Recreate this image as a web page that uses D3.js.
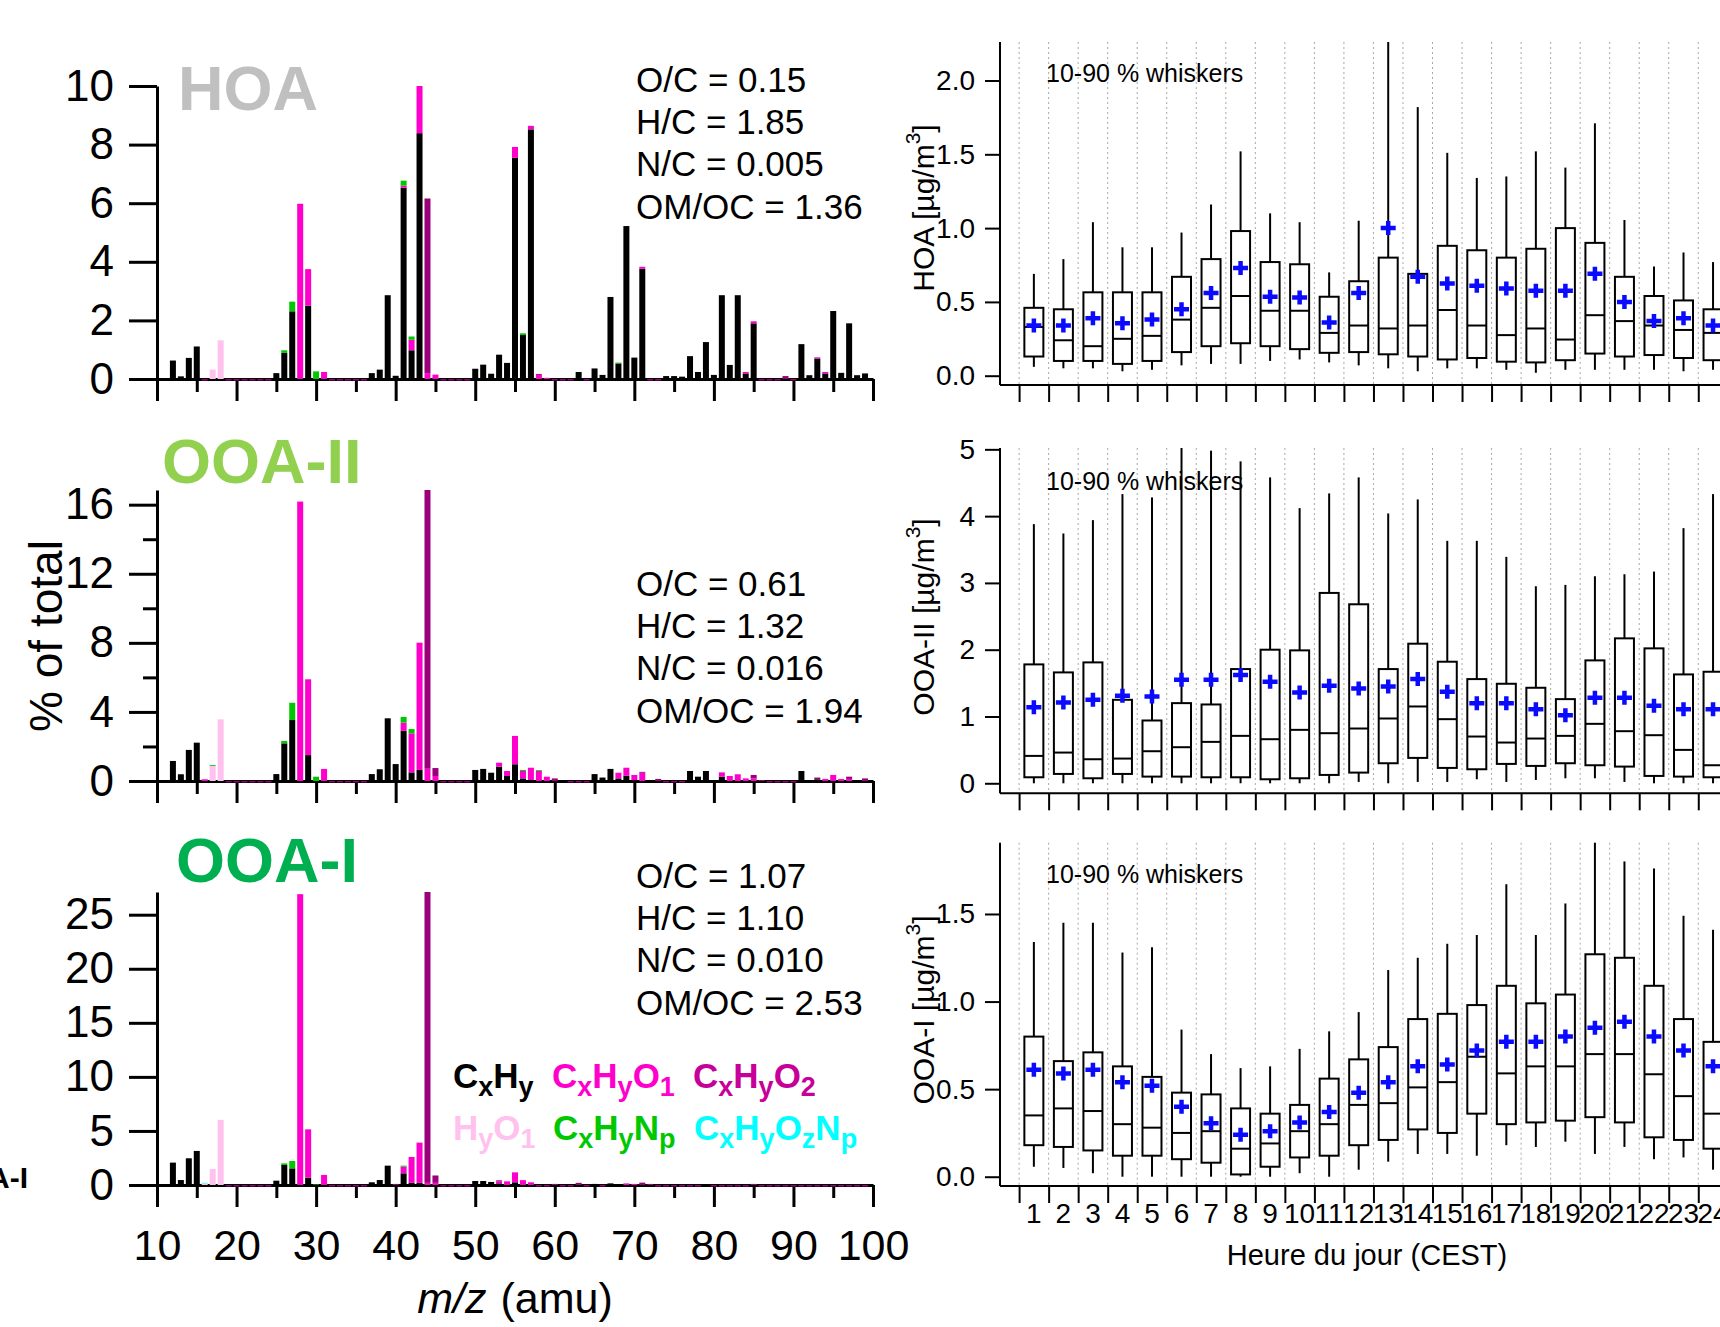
<!DOCTYPE html>
<html>
<head>
<meta charset="utf-8">
<script src="https://cdn.jsdelivr.net/npm/d3@7"></script>
<style>
  body { margin: 0; background: #fff; }
  svg { display: block; }
  text { font-family: "Liberation Sans", Arial, Helvetica, sans-serif; }
</style>
</head>
<body>
<svg id="chart" width="1720" height="1327"></svg>
<script>
// ---- mass spectra, [m/z, % of total] per ion family ----
const FAMILIES = ['CxHy', 'CxHyO1', 'CxHyO2', 'HyO1', 'CxHyNp', 'CxHyOzNp'];
const BAR_COLORS = ['#000000', '#ff00cc', '#99007a', '#ffc2ee', '#00c800', '#00ffff'];
const LEGEND_COLORS = ['#000000', '#ff00cc', '#c8009a', '#ffc2ee', '#00c800', '#00ffff'];

const hoaCH = [[12,0.63],[13,0.09],[14,0.72],[15,1.11],[25,0.2],[26,0.89],[27,2.31],[29,2.5],[37,0.2],[38,0.32],[39,2.86],[40,0.11],[41,6.53],[42,0.98],[43,8.39],[50,0.35],[51,0.49],[52,0.18],[53,0.83],[54,0.55],[55,7.55],[56,1.5],[57,8.52],[63,0.24],[65,0.36],[66,0.14],[67,2.8],[68,0.53],[69,5.22],[70,0.73],[71,3.76],[74,0.1],[75,0.1],[76,0.08],[77,0.78],[78,0.24],[79,1.26],[80,0.14],[81,2.86],[82,0.48],[83,2.86],[84,0.19],[85,1.9],[91,1.19],[92,0.13],[93,0.7],[94,0.19],[95,2.32],[96,0.21],[97,1.9],[98,0.13],[99,0.19]];
const hoaCHO1 = [[28,5.98],[29,1.25],[31,0.24],[41,0.07],[42,0.36],[43,1.61],[44,0.2],[45,0.15],[55,0.37],[57,0.12],[58,0.14],[59,0.04],[71,0.07],[84,0.05],[85,0.07],[93,0.04],[94,0.05]];
const hoaCHO2 = [[44,5.96],[58,0.03],[89,0.1],[16,-0.05],[19,-0.05],[20,-0.05],[21,-0.05],[22,-0.05],[23,-0.05],[24,-0.05],[32,-0.05],[33,-0.05],[34,-0.05],[35,-0.05],[36,-0.05],[46,-0.05],[47,-0.05],[48,-0.05],[49,-0.05],[60,-0.05],[61,-0.05],[62,-0.05],[64,-0.05],[72,-0.05],[73,-0.05],[86,-0.05],[87,-0.05],[88,-0.05],[90,-0.05]];
const hoaHO = [[17,0.32],[18,1.32]];
const hoaCHN = [[26,0.09],[27,0.33],[30,0.26],[41,0.17],[42,0.11],[56,0.06],[68,0.03]];
const hoaCHON = [];

const ooa2CH = [[12,1.16],[13,0.39],[14,1.8],[15,2.22],[25,0.4],[26,2.18],[27,3.53],[29,1.5],[37,0.4],[38,0.68],[39,3.63],[40,0.98],[41,2.9],[42,0.5],[43,0.64],[50,0.64],[51,0.7],[52,0.48],[53,0.83],[54,0.29],[55,0.97],[56,0.15],[57,0.06],[65,0.4],[66,0.2],[67,0.7],[68,0.15],[69,0.31],[70,0.05],[77,0.58],[78,0.25],[79,0.58],[81,0.25],[91,0.58],[93,0.1]];
const ooa2CHO1 = [[16,0.1],[28,16.18],[29,4.39],[31,0.7],[41,0.48],[42,2.26],[43,7.37],[44,0.71],[45,0.29],[53,0.23],[54,0.29],[55,1.64],[56,0.43],[57,0.71],[58,0.58],[59,0.25],[68,0.33],[69,0.46],[70,0.3],[71,0.48],[81,0.25],[82,0.29],[83,0.39],[84,0.15],[85,0.15],[94,0.12],[95,0.35],[96,0.12],[97,0.12]];
const ooa2CHO2 = [[44,16.19],[45,0.46],[60,0.15],[71,0.05],[73,0.12],[85,0.2],[86,0.06],[93,0.1],[97,0.13],[99,0.15],[19,-0.08],[20,-0.08],[21,-0.08],[22,-0.08],[23,-0.08],[24,-0.08],[32,-0.08],[33,-0.08],[34,-0.08],[35,-0.08],[36,-0.08],[46,-0.08],[47,-0.08],[48,-0.08],[49,-0.08],[62,-0.08],[63,-0.08],[64,-0.08],[74,-0.08],[75,-0.08],[76,-0.08],[87,-0.08],[88,-0.08],[89,-0.08],[90,-0.08]];
const ooa2HO = [[17,0.87],[18,3.57]];
const ooa2CHN = [[17,0.05],[26,0.14],[27,1.0],[30,0.25],[41,0.33],[42,0.25],[56,0.06],[58,0.05]];
const ooa2CHON = [];

const ooa1CH = [[12,2.07],[13,0.46],[14,2.47],[15,3.15],[25,0.4],[26,1.85],[27,1.54],[29,0.68],[37,0.25],[38,0.46],[39,1.79],[41,1.08],[42,0.2],[43,0.2],[50,0.37],[51,0.37],[52,0.28],[53,0.15],[55,0.25],[65,0.1],[67,0.15]];
const ooa1CHO1 = [[28,26.9],[29,4.47],[31,0.93],[41,0.62],[42,2.39],[43,3.72],[44,0.2],[45,0.2],[53,0.2],[54,0.34],[55,0.92],[56,0.45],[57,0.25],[69,0.15],[70,0.1]];
const ooa1CHO2 = [[44,27.0],[45,0.68],[40,0.1],[53,0.08],[60,0.1],[63,0.2],[71,0.22],[72,0.1],[85,0.1],[19,-0.14],[20,-0.14],[21,-0.14],[22,-0.14],[23,-0.14],[24,-0.14],[32,-0.14],[33,-0.14],[34,-0.14],[35,-0.14],[36,-0.14],[46,-0.14],[47,-0.14],[48,-0.14],[49,-0.14],[58,-0.14],[59,-0.14],[61,-0.14],[62,-0.14],[64,-0.14],[66,-0.14],[73,-0.14],[74,-0.14],[75,-0.14],[76,-0.14],[77,-0.14],[78,-0.14],[80,-0.14],[81,-0.14],[82,-0.14],[83,-0.14],[84,-0.14],[86,-0.14],[87,-0.14],[88,-0.14],[89,-0.14],[90,-0.14],[91,-0.14],[92,-0.14],[93,-0.14],[94,-0.14],[95,-0.14],[96,-0.14],[97,-0.14],[98,-0.14],[99,-0.14]];
const ooa1HO = [[16,0.15],[17,1.48],[18,6.02]];
const ooa1CHN = [[26,0.15],[27,0.68],[30,0.05],[41,0.09]];
const ooa1CHON = [[16,0.05]];

const MZ_MAJOR = [10,20,30,40,50,60,70,80,90,100];
const MZ_MINOR = [15,25,35,45,55,65,75,85,95];

// ---- diurnal box plots, hours 1..24 (µg/m3) ----
const HOURS = d3.range(1, 25);
const hoaP10  = [0.06,0.05,0.05,0.03,0.04,0.07,0.08,0.08,0.10,0.11,0.09,0.07,0.05,0.03,0.05,0.05,0.04,0.02,0.04,0.04,0.04,0.04,0.03,0.04];
const hoaQ25  = [0.13,0.10,0.10,0.08,0.10,0.16,0.20,0.22,0.20,0.18,0.155,0.16,0.145,0.13,0.11,0.12,0.095,0.09,0.105,0.15,0.13,0.14,0.12,0.105];
const hoaMed  = [0.33,0.24,0.20,0.25,0.27,0.38,0.46,0.54,0.44,0.44,0.29,0.34,0.32,0.34,0.445,0.34,0.275,0.32,0.245,0.41,0.37,0.34,0.31,0.29];
const hoaQ75  = [0.46,0.45,0.565,0.565,0.565,0.67,0.79,0.98,0.77,0.755,0.535,0.64,0.80,0.69,0.88,0.85,0.80,0.86,1.0,0.90,0.67,0.54,0.51,0.45];
const hoaP90  = [0.69,0.79,1.04,0.87,0.87,0.97,1.16,1.52,1.10,1.04,0.70,1.05,2.3,1.82,1.51,1.34,1.35,1.52,1.41,1.71,1.055,0.74,0.835,0.77];
const hoaMean = [0.34,0.34,0.39,0.355,0.38,0.45,0.56,0.73,0.535,0.53,0.36,0.56,1.0,0.67,0.625,0.61,0.59,0.575,0.575,0.69,0.50,0.37,0.39,0.34];

const ooa2P10  = [0.0,0.0,0.0,0.0,0.0,0.0,0.0,0.0,0.0,0.0,0.0,0.02,0.0,0.02,0.02,0.06,0.02,0.05,0.075,0.075,0.02,0.0,0.0,0.0];
const ooa2Q25  = [0.09,0.14,0.075,0.14,0.10,0.10,0.09,0.09,0.06,0.075,0.125,0.16,0.30,0.38,0.23,0.21,0.29,0.26,0.30,0.27,0.25,0.11,0.10,0.09];
const ooa2Med  = [0.41,0.46,0.36,0.37,0.48,0.54,0.62,0.71,0.66,0.80,0.75,0.82,0.97,1.15,0.96,0.70,0.61,0.67,0.71,0.89,0.78,0.72,0.50,0.27];
const ooa2Q75  = [1.78,1.66,1.81,1.25,0.94,1.20,1.18,1.71,2.0,1.99,2.85,2.68,1.71,2.09,1.82,1.56,1.49,1.43,1.26,1.84,2.17,2.02,1.63,1.67];
const ooa2P90  = [3.88,3.74,3.94,4.33,4.28,5.05,4.98,4.82,4.58,4.12,4.34,4.58,4.04,4.25,3.63,3.63,3.39,2.95,2.97,3.10,3.13,3.17,3.82,4.33];
const ooa2Mean = [1.14,1.21,1.25,1.31,1.30,1.55,1.55,1.62,1.52,1.36,1.46,1.42,1.45,1.56,1.37,1.20,1.20,1.11,1.02,1.28,1.28,1.16,1.11,1.11];

const ooa1P10  = [0.057,0.05,0.02,0.0,0.0,0.0,0.0,0.0,0.0,0.02,0.0,0.04,0.086,0.13,0.13,0.12,0.18,0.17,0.20,0.13,0.17,0.10,0.11,0.04];
const ooa1Q25  = [0.18,0.17,0.15,0.12,0.12,0.10,0.08,0.013,0.057,0.11,0.12,0.18,0.21,0.27,0.25,0.36,0.30,0.31,0.32,0.34,0.31,0.225,0.21,0.16];
const ooa1Med  = [0.35,0.39,0.375,0.30,0.28,0.25,0.26,0.16,0.19,0.26,0.30,0.41,0.42,0.51,0.54,0.685,0.59,0.63,0.63,0.70,0.70,0.585,0.46,0.36];
const ooa1Q75  = [0.80,0.66,0.71,0.63,0.57,0.48,0.47,0.39,0.36,0.41,0.56,0.67,0.74,0.90,0.93,0.98,1.09,0.99,1.04,1.27,1.25,1.09,0.90,0.77];
const ooa1P90  = [1.34,1.45,1.45,1.28,1.31,0.84,0.70,0.62,0.63,0.73,0.83,0.94,1.18,1.25,1.33,1.38,1.67,1.38,1.56,1.95,1.80,1.76,1.49,1.41];
const ooa1Mean = [0.61,0.59,0.61,0.54,0.52,0.40,0.305,0.24,0.26,0.31,0.37,0.48,0.54,0.63,0.64,0.72,0.77,0.77,0.80,0.85,0.885,0.80,0.72,0.63];

const svg = d3.select('#chart');
const mzX = d3.scaleLinear().domain([10, 100]).range([157, 873]);
const hourX = d3.scaleLinear().domain([0.5, 24.5]).range([1019.1, 1727.8]);

function styleAxis(g, w, fs) {
  g.selectAll('path.domain').attr('stroke', '#000').attr('stroke-width', w);
  g.selectAll('.tick line').attr('stroke', '#000').attr('stroke-width', w);
  g.selectAll('.tick text').attr('fill', '#000').attr('font-size', fs)
    .attr('font-family', '"Liberation Sans", Arial, sans-serif');
}

function spectrumPanel(cfg) {
  const y = d3.scaleLinear().domain([0, cfg.yMax]).range([cfg.y0, cfg.yTop]);
  const g = svg.append('g');

  // y axis: labelled ticks, then minor ones
  const ya = g.append('g').attr('transform', 'translate(157,0)')
    .call(d3.axisLeft(y).tickValues(cfg.yTicks).tickSize(28).tickPadding(15).tickSizeOuter(0).tickFormat(d3.format('d')));
  styleAxis(ya, 3, 44);
  if (cfg.yMinor) {
    const ym = g.append('g').attr('transform', 'translate(157,0)')
      .call(d3.axisLeft(y).tickValues(cfg.yMinor).tickSize(14).tickSizeOuter(0).tickFormat(''));
    styleAxis(ym, 3, 44);
    ym.select('path.domain').remove();
  }

  // x axis at zero
  const xa = g.append('g').attr('transform', `translate(0,${cfg.y0})`)
    .call(d3.axisBottom(mzX).tickValues(MZ_MAJOR).tickSize(22).tickPadding(22.5).tickSizeOuter(0)
      .tickFormat(cfg.xLabels ? d3.format('d') : ''));
  styleAxis(xa, 3, 43);
  const xm = g.append('g').attr('transform', `translate(0,${cfg.y0})`)
    .call(d3.axisBottom(mzX).tickValues(MZ_MINOR).tickSize(13).tickSizeOuter(0).tickFormat(''));
  styleAxis(xm, 3, 43);
  xm.select('path.domain').remove();

  // stacked bars
  const rows = d3.range(10, 101).map(mz => {
    const r = { mz };
    FAMILIES.forEach(f => { r[f] = 0; });
    return r;
  });
  cfg.series.forEach((list, i) => list.forEach(([mz, v]) => { rows[mz - 10][FAMILIES[i]] += v; }));
  const stacked = d3.stack().keys(FAMILIES).offset(d3.stackOffsetDiverging)(rows);

  g.append('g').selectAll('g').data(stacked).join('g')
    .attr('fill', (d, i) => BAR_COLORS[i])
    .selectAll('rect').data(d => d.filter(s => s[1] !== s[0])).join('rect')
    .attr('x', s => mzX(s.data.mz) - 3)
    .attr('width', 6)
    .attr('y', s => Math.max(cfg.yTop, y(Math.max(s[0], s[1]))))
    .attr('height', s => Math.max(0, y(Math.min(s[0], s[1])) - Math.max(cfg.yTop, y(Math.max(s[0], s[1])))));

  // title
  g.append('text').attr('x', cfg.titleX).attr('y', cfg.titleY)
    .attr('font-size', 63).attr('font-weight', 'bold').attr('fill', cfg.titleColor).text(cfg.title);

  // elemental ratios
  g.append('g').selectAll('text').data(cfg.ratios).join('text')
    .attr('x', 636).attr('y', (d, i) => cfg.ratioY + i * 42.2)
    .attr('font-size', 35).attr('fill', '#000').text(d => d);
}

spectrumPanel({
  y0: 379, yTop: 86, yMax: 10, yTicks: [0, 2, 4, 6, 8, 10], yMinor: null, xLabels: false,
  series: [hoaCH, hoaCHO1, hoaCHO2, hoaHO, hoaCHN, hoaCHON],
  title: 'HOA', titleX: 178, titleY: 110, titleColor: '#c0c0c0',
  ratios: ['O/C = 0.15', 'H/C = 1.85', 'N/C = 0.005', 'OM/OC = 1.36'], ratioY: 92
});
spectrumPanel({
  y0: 781, yTop: 490, yMax: 16.85, yTicks: [0, 4, 8, 12, 16], yMinor: [2, 6, 10, 14], xLabels: false,
  series: [ooa2CH, ooa2CHO1, ooa2CHO2, ooa2HO, ooa2CHN, ooa2CHON],
  title: 'OOA-II', titleX: 162, titleY: 483, titleColor: '#92d050',
  ratios: ['O/C = 0.61', 'H/C = 1.32', 'N/C = 0.016', 'OM/OC = 1.94'], ratioY: 596
});
spectrumPanel({
  y0: 1185, yTop: 892, yMax: 27.1, yTicks: [0, 5, 10, 15, 20, 25], yMinor: null, xLabels: true,
  series: [ooa1CH, ooa1CHO1, ooa1CHO2, ooa1HO, ooa1CHN, ooa1CHON],
  title: 'OOA-I', titleX: 176, titleY: 882, titleColor: '#00b050',
  ratios: ['O/C = 1.07', 'H/C = 1.10', 'N/C = 0.010', 'OM/OC = 2.53'], ratioY: 888
});

// left axis titles
svg.append('text').attr('transform', 'translate(62,636) rotate(-90)')
  .attr('text-anchor', 'middle').attr('font-size', 46).text('% of total');
const mzLabel = svg.append('text').attr('x', 515).attr('y', 1313).attr('text-anchor', 'middle').attr('font-size', 43);
mzLabel.append('tspan').attr('font-style', 'italic').text('m/z');
mzLabel.append('tspan').attr('dx', 14).text('(amu)');
// partly hidden panel name at the left edge, as in the source figure
svg.append('text').attr('x', 28).attr('y', 1188).attr('text-anchor', 'end')
  .attr('font-size', 30).attr('font-weight', 'bold').text('OOA-I');

// legend: part = [text, isSub]
const LEGEND = [
  { f: 0, x: 453, y: 1088, parts: [['C', 0], ['x', 1], ['H', 0], ['y', 1]] },
  { f: 1, x: 552, y: 1088, parts: [['C', 0], ['x', 1], ['H', 0], ['y', 1], ['O', 0], ['1', 1]] },
  { f: 2, x: 693, y: 1088, parts: [['C', 0], ['x', 1], ['H', 0], ['y', 1], ['O', 0], ['2', 1]] },
  { f: 3, x: 453, y: 1140, parts: [['H', 0], ['y', 1], ['O', 0], ['1', 1]] },
  { f: 4, x: 553, y: 1140, parts: [['C', 0], ['x', 1], ['H', 0], ['y', 1], ['N', 0], ['p', 1]] },
  { f: 5, x: 694, y: 1140, parts: [['C', 0], ['x', 1], ['H', 0], ['y', 1], ['O', 0], ['z', 1], ['N', 0], ['p', 1]] }
];
LEGEND.forEach(item => {
  const t = svg.append('text').attr('x', item.x).attr('y', item.y)
    .attr('font-size', 35).attr('font-weight', 'bold').attr('fill', LEGEND_COLORS[item.f]);
  let prevSub = false;
  item.parts.forEach(([s, sub]) => {
    const ts = t.append('tspan').text(s);
    if (sub) ts.attr('font-size', 27);
    if (sub && !prevSub) ts.attr('dy', 8);
    if (!sub && prevSub) ts.attr('dy', -8);
    prevSub = !!sub;
  });
});

// ---- diurnal panels ----
function diurnalPanel(cfg) {
  const y = d3.scaleLinear().domain([cfg.yMin, cfg.yMax]).range([cfg.yBottom, cfg.yTop]);
  const top = v => Math.max(cfg.yTop, y(v));
  const g = svg.append('g');

  // dotted hour separators
  g.append('g').selectAll('line').data(d3.range(0.5, 25, 1)).join('line')
    .attr('x1', d => hourX(d)).attr('x2', d => hourX(d))
    .attr('y1', cfg.yTop).attr('y2', cfg.yBottom)
    .attr('stroke', '#a8a8a8').attr('stroke-width', 1).attr('stroke-dasharray', '2,3');

  const ya = g.append('g').attr('transform', 'translate(1000,0)')
    .call(d3.axisLeft(y).tickValues(cfg.yTicks).tickSize(15).tickPadding(10).tickSizeOuter(0).tickFormat(d3.format(cfg.fmt)));
  styleAxis(ya, 2, 28);
  ya.select('path.domain').attr('d', `M0,${cfg.yBottom}V${cfg.yTop}`);

  const xa = g.append('g').attr('transform', `translate(0,${cfg.yBottom})`)
    .call(d3.axisBottom(hourX).tickValues(d3.range(0.5, 25, 1)).tickSize(17).tickSizeOuter(0).tickFormat(''));
  styleAxis(xa, 2, 28);
  xa.select('path.domain').attr('d', 'M1000,0H1720');

  const boxes = g.append('g').selectAll('g').data(HOURS).join('g');
  const bx = h => hourX(h);
  // whiskers
  boxes.append('line').attr('x1', bx).attr('x2', bx)
    .attr('y1', (h, i) => top(cfg.p10[i])).attr('y2', (h, i) => y(cfg.q25[i]))
    .attr('stroke', '#000').attr('stroke-width', 2);
  boxes.append('line').attr('x1', bx).attr('x2', bx)
    .attr('y1', (h, i) => y(cfg.q75[i])).attr('y2', (h, i) => top(cfg.p90[i]))
    .attr('stroke', '#000').attr('stroke-width', 2);
  // box
  boxes.append('rect').attr('x', h => bx(h) - 9.5).attr('width', 19)
    .attr('y', (h, i) => y(cfg.q75[i])).attr('height', (h, i) => y(cfg.q25[i]) - y(cfg.q75[i]))
    .attr('fill', 'none').attr('stroke', '#000').attr('stroke-width', 2);
  boxes.append('line').attr('x1', h => bx(h) - 9.5).attr('x2', h => bx(h) + 9.5)
    .attr('y1', (h, i) => y(cfg.med[i])).attr('y2', (h, i) => y(cfg.med[i]))
    .attr('stroke', '#000').attr('stroke-width', 2);
  // mean
  boxes.append('path')
    .attr('d', (h, i) => { const cx = bx(h), cy = y(cfg.mean[i]); return `M${cx - 7.5},${cy}H${cx + 7.5}M${cx},${cy - 7}V${cy + 7}`; })
    .attr('stroke', '#0a0aff').attr('stroke-width', 4.5).attr('fill', 'none');

  g.append('text').attr('x', 1046).attr('y', cfg.noteY).attr('font-size', 25).text('10-90 % whiskers');

  const lab = g.append('text').attr('transform', `translate(934,${cfg.labelY}) rotate(-90)`)
    .attr('text-anchor', 'middle').attr('font-size', 30);
  lab.append('tspan').text(cfg.label + ' [µg/m');
  lab.append('tspan').attr('font-size', 21).attr('dy', -14).text('3');
  lab.append('tspan').attr('dy', 14).text(']');

  if (cfg.xLabels) {
    g.append('g').selectAll('text').data(HOURS).join('text')
      .attr('x', h => hourX(h)).attr('y', 1223).attr('text-anchor', 'middle').attr('font-size', 28).text(h => h);
    g.append('text').attr('x', 1367).attr('y', 1265).attr('text-anchor', 'middle').attr('font-size', 29)
      .text('Heure du jour (CEST)');
  }
}

diurnalPanel({
  yMin: -0.063, yMax: 2.261, yBottom: 385, yTop: 42, yTicks: [0, 0.5, 1, 1.5, 2], fmt: '.1f',
  p10: hoaP10, q25: hoaQ25, med: hoaMed, q75: hoaQ75, p90: hoaP90, mean: hoaMean,
  noteY: 82, label: 'HOA', labelY: 208, xLabels: false
});
diurnalPanel({
  yMin: -0.15, yMax: 5.02, yBottom: 793.3, yTop: 448, yTicks: [0, 1, 2, 3, 4, 5], fmt: 'd',
  p10: ooa2P10, q25: ooa2Q25, med: ooa2Med, q75: ooa2Q75, p90: ooa2P90, mean: ooa2Mean,
  noteY: 490, label: 'OOA-II', labelY: 617, xLabels: false
});
diurnalPanel({
  yMin: -0.053, yMax: 1.907, yBottom: 1186, yTop: 842.7, yTicks: [0, 0.5, 1, 1.5], fmt: '.1f',
  p10: ooa1P10, q25: ooa1Q25, med: ooa1Med, q75: ooa1Q75, p90: ooa1P90, mean: ooa1Mean,
  noteY: 883, label: 'OOA-I', labelY: 1010, xLabels: true
});
</script>
</body>
</html>
